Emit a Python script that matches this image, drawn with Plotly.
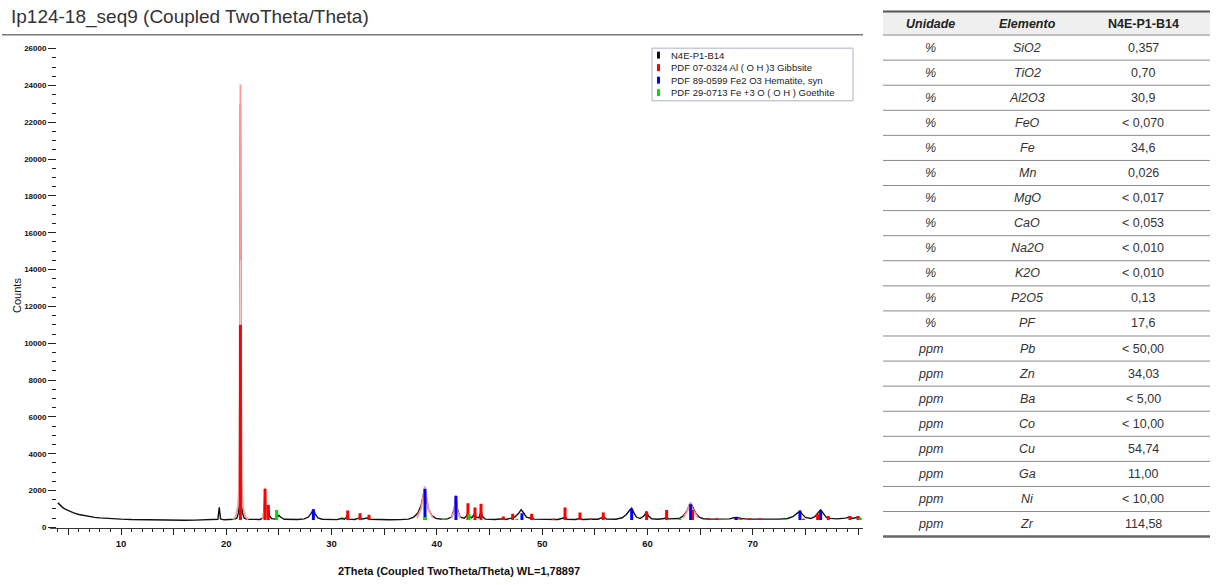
import plotly.graph_objects as go

W, H = 1219, 585

# ---------------- data ----------------
chart_title = "Ip124-18_seq9 (Coupled TwoTheta/Theta)"
x_title = "2Theta (Coupled TwoTheta/Theta) WL=1,78897"
y_title = "Counts"

x_tick_vals = [5, 10, 15, 20, 25, 30, 35, 40, 45, 50, 55, 60, 65, 70, 75, 80]
x_tick_text = ["", "10", "", "20", "", "30", "", "40", "", "50", "", "60", "", "70", "", ""]
y_tick_vals = [0, 2000, 4000, 6000, 8000, 10000, 12000, 14000, 16000, 18000, 20000, 22000, 24000, 26000]
y_tick_text = ["0", "2000", "4000", "6000", "8000", "10000", "12000", "14000", "16000", "18000",
               "20000", "22000", "24000", "26000"]

legend_names = ["N4E-P1-B14",
                "PDF 07-0324 Al ( O H )3 Gibbsite",
                "PDF 89-0599 Fe2 O3 Hematite, syn",
                "PDF 29-0713 Fe +3 O ( O H ) Goethite"]

scan_2theta = [4.00, 4.25, 4.5, 4.75, 5.0, 5.5, 6.0, 6.5, 7.0, 7.5, 8.0, 8.5, 9.0, 10.0, 11.0, 12.0,
               13.0, 14.0, 15.0, 16.0, 17.0, 18.0, 18.8, 19.2, 19.33, 19.45, 19.8, 20.3, 20.7, 21.0,
               21.15, 21.25, 21.3, 21.34, 21.38, 21.43, 21.53, 21.7, 22.0, 22.6, 23.2, 23.5, 23.62,
               23.68, 23.75, 23.88, 23.99, 24.1, 24.3, 24.6, 24.8, 25.0, 25.15, 25.5, 26.0, 26.8,
               27.4, 27.8, 28.1, 28.27, 28.45, 28.7, 29.1, 29.8, 30.5, 30.9, 31.05, 31.2, 31.45,
               31.53, 31.62, 32.2, 32.65, 32.72, 32.8, 33.5, 33.57, 33.65, 34.5, 35.5, 36.5, 37.3,
               37.8, 38.2, 38.5, 38.7, 38.85, 39.0, 39.2, 39.5, 39.9, 40.5, 41.0, 41.4, 41.65, 41.8,
               41.95, 42.2, 42.6, 42.85, 42.95, 43.05, 43.3, 43.55, 43.62, 43.7, 44.0, 44.15, 44.2,
               44.3, 44.6, 45.5, 46.3, 46.5, 47.1, 47.2, 47.4, 47.75, 48.0, 48.25, 48.5, 48.9, 49.0,
               49.2, 50.0, 51.0, 51.5, 52.1, 52.2, 52.35, 53.2, 53.6, 53.8, 54.6, 55.3, 55.7, 55.85,
               56.1, 57.0, 57.6, 58.0, 58.3, 58.5, 58.7, 58.95, 59.3, 59.7, 59.9, 60.1, 60.4, 61.0,
               61.6, 61.82, 62.0, 62.6, 63.0, 63.4, 63.75, 64.0, 64.1, 64.3, 64.6, 64.9, 65.3, 66.0,
               67.0, 67.8, 68.2, 68.5, 68.9, 69.5, 70.5, 71.5, 72.5, 73.3, 73.8, 74.2, 74.48, 74.7,
               75.0, 75.5, 75.9, 76.2, 76.45, 76.7, 77.0, 77.4, 78.0, 78.8, 79.2, 79.5, 79.8, 80.0,
               80.3]
scan_counts = [1330, 1170, 1060, 975, 905, 790, 700, 635, 585, 545, 515, 490, 470, 445, 425, 412,
               402, 396, 392, 390, 392, 398, 405, 440, 1090, 460, 410, 415, 440, 500,
               800, 2500, 11000, 23000, 11000, 2500, 800, 500, 440, 420, 430, 520, 1200,
               1950, 1100, 700, 1150, 650, 470, 450, 520, 650, 560, 440, 420, 425,
               460, 560, 800, 960, 720, 520, 440, 420, 420, 480, 500, 440, 560,
               700, 450, 430, 520, 620, 450, 520, 560, 440, 420, 415, 420, 450,
               560, 780, 1200, 1700, 2100, 1600, 1000, 650, 490, 440, 460, 560, 1000, 1650,
               1000, 560, 500, 650, 850, 600, 520, 700, 850, 560, 520, 800, 950,
               600, 450, 430, 470, 430, 500, 560, 560, 750, 960, 780, 560, 500, 580,
               450, 430, 440, 430, 520, 560, 440, 430, 500, 430, 440, 440, 530, 560,
               450, 440, 520, 700, 930, 1040, 800, 560, 480, 640, 860, 620, 470, 440,
               480, 560, 460, 450, 480, 620, 900, 1250, 1300, 1100, 750, 560, 470, 450,
               440, 460, 520, 540, 490, 450, 445, 440, 445, 480, 580, 760, 880, 720,
               540, 480, 580, 800, 950, 760, 540, 490, 460, 500, 560, 480, 530, 560,
               440]

# light-red fitted profiles (segments separated by None)
profile_2theta = [20.66, 20.9, 21.1, 21.2, 21.27, 21.31, 21.34, 21.37, 21.41, 21.48, 21.58, 21.8, 22.08, None,
                  23.45, 23.6, 23.68, 23.76, 23.9, None,
                  38.1, 38.5, 38.7, 38.85, 39.0, 39.2, 39.6, None,
                  41.4, 41.65, 41.8, 41.95, 42.2, None,
                  63.4, 63.8, 64.05, 64.3, 64.8]
profile_counts = [420, 600, 1100, 2000, 5000, 12000, 24050, 12000, 5000, 2000, 1100, 600, 420, None,
                  430, 900, 2150, 900, 500, None,
                  500, 1000, 1700, 2230, 1700, 1000, 500, None,
                  500, 900, 1750, 900, 500, None,
                  500, 900, 1330, 1000, 500]
inner_profile_2theta = [21.3, 21.355, 21.41]
inner_profile_counts = [2000, 14500, 2000]

stick_base = 400
gibbsite_pos = [21.34, 23.68, 23.99, 31.53, 32.70, 33.55, 42.95, 43.62, 44.19, 46.31, 47.2, 49.0,
                51.06, 52.17, 53.59, 54.6, 55.8, 59.92, 61.82, 64.29, 65.77, 66.57, 68.5, 68.9,
                69.73, 70.68, 74.8, 76.16, 77.17, 79.23, 80.0]
gibbsite_int = [11000, 2090, 1220, 915, 770, 680, 1310, 1080, 1280, 590, 740, 740,
                470, 1080, 810, 480, 810, 860, 950, 950, 500, 500, 500, 480,
                490, 490, 470, 740, 620, 620, 620]
hematite_pos = [28.27, 38.87, 41.81, 48.08, 58.5, 64.1, 68.4, 74.48, 76.45]
hematite_int = [990, 2090, 1710, 770, 1010, 1260, 540, 915, 950]
goethite_pos = [20.75, 24.78, 30.96, 38.9, 40.6, 43.05, 47.6, 63.09, 68.8, 73.06, 80.2]
goethite_int = [460, 950, 460, 560, 460, 720, 470, 480, 460, 470, 520]

# table
table_headers = ["Unidade", "Elemento", "N4E-P1-B14"]
table_units = ["%", "%", "%", "%", "%", "%", "%", "%", "%", "%", "%", "%",
               "ppm", "ppm", "ppm", "ppm", "ppm", "ppm", "ppm", "ppm"]
table_elements = ["SiO2", "TiO2", "Al2O3", "FeO", "Fe", "Mn", "MgO", "CaO", "Na2O", "K2O", "P2O5", "PF",
                  "Pb", "Zn", "Ba", "Co", "Cu", "Ga", "Ni", "Zr"]
table_values = ["0,357", "0,70", "30,9", "< 0,070", "34,6", "0,026", "< 0,017", "< 0,053", "< 0,010",
                "< 0,010", "0,13", "17,6", "< 50,00", "34,03", "< 5,00", "< 10,00", "54,74", "11,00",
                "< 10,00", "114,58"]


# ---------------- helpers (screen pixels -> paper fractions) ----------------
def px_x(p):
    return p / W


def px_y(p):
    return 1 - p / H


def stick_lines(pos, heights, base):
    xs, ys = [], []
    for p, h in zip(pos, heights):
        xs += [p, p, None]
        ys += [base, h, None]
    return xs, ys


FONT = "Liberation Sans, Arial, sans-serif"
RED = "#ff0000"
BLUE = "#0000ff"
GREEN = "#00dd00"
BLACK = "#111111"
PINK = "#ff9a9a"

fig = go.Figure()

fig.add_trace(go.Scatter(x=scan_2theta, y=scan_counts, mode="lines",
                         line=dict(color=BLACK, width=1.4), showlegend=False, hoverinfo="skip"))
fig.add_trace(go.Scatter(x=profile_2theta, y=profile_counts, mode="lines",
                         line=dict(color=PINK, width=1.8), showlegend=False, hoverinfo="skip",
                         connectgaps=False))
fig.add_trace(go.Scatter(x=inner_profile_2theta, y=inner_profile_counts, mode="lines",
                         line=dict(color="#ffc4c4", width=1.2), showlegend=False, hoverinfo="skip"))
for pos, ints, col in [(gibbsite_pos, gibbsite_int, RED),
                       (hematite_pos, hematite_int, BLUE),
                       (goethite_pos, goethite_int, GREEN)]:
    xs, ys = stick_lines(pos, ints, stick_base)
    fig.add_trace(go.Scatter(x=xs, y=ys, mode="lines", line=dict(color=col, width=3),
                             showlegend=False, hoverinfo="skip", connectgaps=False))

shapes = []
annotations = []

# title + underline
annotations.append(dict(text=chart_title, xref="paper", yref="paper", x=px_x(9), y=px_y(17),
                        xanchor="left", yanchor="middle", showarrow=False,
                        font=dict(family=FONT, size=19, color="#333333")))
shapes.append(dict(type="line", xref="paper", yref="paper", x0=px_x(2), x1=px_x(863),
                   y0=px_y(35), y1=px_y(35), line=dict(color="#777777", width=1.5)))
# small extension of x axis line
shapes.append(dict(type="line", xref="paper", yref="paper", x0=px_x(50), x1=px_x(57),
                   y0=px_y(532), y1=px_y(532), line=dict(color="#333333", width=1)))

# axis titles
annotations.append(dict(text="<b>%s</b>" % x_title, xref="paper", yref="paper", x=px_x(459), y=px_y(575),
                        xanchor="center", yanchor="middle", showarrow=False,
                        font=dict(family=FONT, size=11, color="#111111")))
annotations.append(dict(text=y_title, xref="paper", yref="paper", x=px_x(17), y=px_y(298),
                        xanchor="center", yanchor="middle", showarrow=False, textangle=-90,
                        font=dict(family=FONT, size=11, color="#111111")))

# legend box
shapes.append(dict(type="rect", xref="paper", yref="paper", x0=px_x(652), x1=px_x(853),
                   y0=px_y(101.5), y1=px_y(48.5), line=dict(color="#aab2c6", width=1),
                   fillcolor="white"))
legend_cols = [BLACK, RED, BLUE, GREEN]
for i, (name, col) in enumerate(zip(legend_names, legend_cols)):
    cy = 55.5 + 12.6 * i
    shapes.append(dict(type="line", xref="paper", yref="paper", x0=px_x(658.5), x1=px_x(658.5),
                       y0=px_y(cy + 3.5), y1=px_y(cy - 3.5), line=dict(color=col, width=3)))
    annotations.append(dict(text=name, xref="paper", yref="paper", x=px_x(669), y=px_y(cy),
                            xanchor="left", yanchor="middle", showarrow=False,
                            font=dict(family=FONT, size=9.5, color="#222222")))

# ---------------- table (drawn with shapes + text) ----------------
T_LEFT, T_RIGHT = 883, 1210
T_TOP, HEAD_BOTTOM, ROW_H = 11.7, 35.3, 25.25
col_centers = [930, 1027, 1143]

shapes.append(dict(type="rect", xref="paper", yref="paper", x0=px_x(T_LEFT), x1=px_x(T_RIGHT),
                   y0=px_y(HEAD_BOTTOM), y1=px_y(T_TOP), line=dict(width=0), fillcolor="#efefef",
                   layer="below"))
shapes.append(dict(type="line", xref="paper", yref="paper", x0=px_x(T_LEFT), x1=px_x(T_RIGHT),
                   y0=px_y(T_TOP), y1=px_y(T_TOP), line=dict(color="#555555", width=2)))
n_rows = len(table_values)
for k in range(n_rows):
    yy = HEAD_BOTTOM + ROW_H * k
    shapes.append(dict(type="line", xref="paper", yref="paper", x0=px_x(T_LEFT), x1=px_x(T_RIGHT),
                       y0=px_y(yy), y1=px_y(yy), line=dict(color="#8a8a8a", width=1)))
bottom = HEAD_BOTTOM + ROW_H * n_rows
shapes.append(dict(type="line", xref="paper", yref="paper", x0=px_x(T_LEFT), x1=px_x(T_RIGHT),
                   y0=px_y(bottom), y1=px_y(bottom), line=dict(color="#666666", width=2.5)))

head_fmt = ["<b><i>%s</i></b>", "<b><i>%s</i></b>", "<b>%s</b>"]
for c, (hdr, fmt) in enumerate(zip(table_headers, head_fmt)):
    annotations.append(dict(text=fmt % hdr, xref="paper", yref="paper", x=px_x(col_centers[c]),
                            y=px_y((T_TOP + HEAD_BOTTOM) / 2 + 0.5), xanchor="center", yanchor="middle",
                            showarrow=False, font=dict(family=FONT, size=12.5, color="#222222")))
for k in range(n_rows):
    cy = HEAD_BOTTOM + ROW_H * (k + 0.5)
    row = ["<i>%s</i>" % table_units[k], "<i>%s</i>" % table_elements[k], table_values[k]]
    for c, txt in enumerate(row):
        annotations.append(dict(text=txt, xref="paper", yref="paper", x=px_x(col_centers[c]),
                                y=px_y(cy), xanchor="center", yanchor="middle", showarrow=False,
                                font=dict(family=FONT, size=12.5, color="#333333")))

fig.update_layout(
    width=W, height=H,
    margin=dict(l=0, r=0, t=0, b=0),
    paper_bgcolor="white", plot_bgcolor="white",
    showlegend=False,
    hovermode=False,
    shapes=shapes, annotations=annotations,
    xaxis=dict(domain=[px_x(57), px_x(863)], range=[3.92, 80.47],
               tickmode="array", tickvals=x_tick_vals, ticktext=x_tick_text,
               ticks="outside", ticklen=6, tickwidth=1, tickcolor="#222222",
               showline=True, linecolor="#333333", linewidth=1,
               showgrid=False, zeroline=False,
               tickfont=dict(family=FONT, size=9.5, color="#111111", weight="bold"),
               minor=dict(dtick=1, tick0=0, ticks="outside", ticklen=3, tickcolor="#222222", showgrid=False)),
    yaxis=dict(domain=[px_y(532), px_y(44)], range=[-54, 26267],
               tickmode="array", tickvals=y_tick_vals, ticktext=y_tick_text,
               ticks="outside", ticklen=8, tickwidth=1, tickcolor="#222222",
               showline=False, showgrid=False, zeroline=False,
               tickfont=dict(family=FONT, size=8, color="#111111", weight="bold"),
               minor=dict(dtick=500, tick0=0, ticks="outside", ticklen=4, tickcolor="#222222", showgrid=False)),
)

# remove the browser's default 8 px body margin so the figure sits at the page corner
fig.write_html("out.html", config={"displayModeBar": False},
               post_script="document.body.style.margin='0px';")
